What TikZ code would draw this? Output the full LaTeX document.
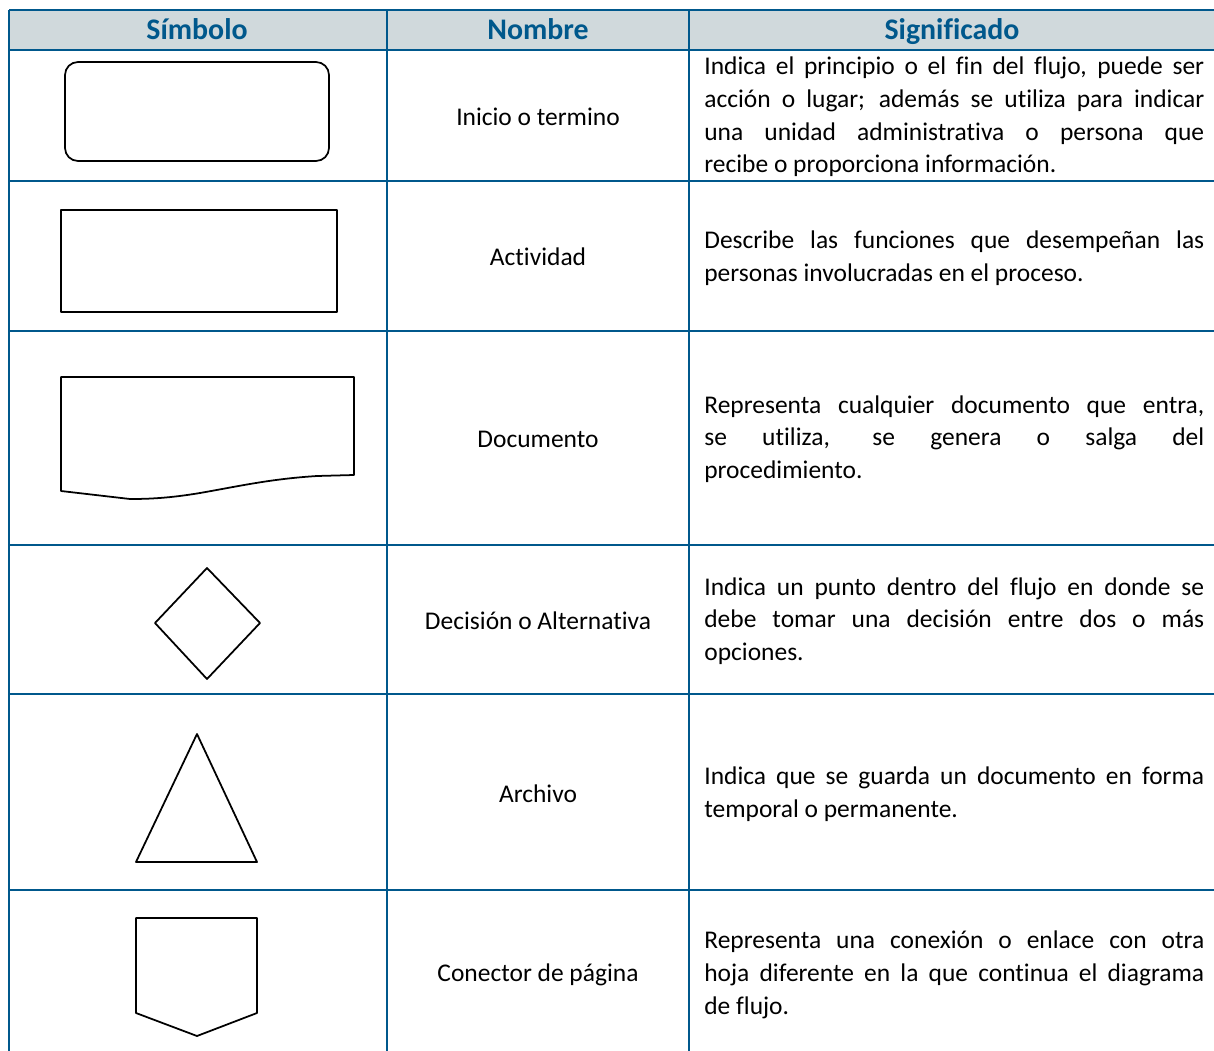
\documentclass[tikz,border=0pt]{standalone}
\usepackage{fontspec}
\setmainfont{Carlito}[RawFeature={-liga;-clig;-calt;-dlig}]
\usetikzlibrary{shapes.geometric,positioning}
\definecolor{rulecol}{RGB}{0,88,140}
\definecolor{headfill}{RGB}{208,217,220}

\begin{document}
\begin{tikzpicture}[x=0.02cm,y=-0.02cm,line join=round,
    head/.style={font=\fontsize{17}{20}\selectfont\bfseries,text=rulecol,inner sep=0pt,anchor=base},
    name cell/.style={font=\fontsize{14.5}{18.6}\selectfont,inner sep=0pt},
    mean cell/.style={font=\fontsize{14.5}{18.6}\selectfont,inner sep=0pt,anchor=west,text width=10cm,align=justify},
    symbol/.style={draw=black,line width=1pt},
    grid line/.style={draw=rulecol,line width=1.4pt}]

                \useasboundingbox (0,0) rectangle (1214,1051);

                \fill[headfill] (9,10) rectangle (1214,50);

                \foreach \y in {10,50,181,331,545,694,890}{
                    \path[grid line] (9,\y) -- (1214,\y);
                }
                \foreach \x in {9,387,689}{
                    \path[grid line] (\x,10) -- (\x,1051);
                }

                \node[head] (h1) at (197,40) {Símbolo};
                \node[head] (h2) at (538,40) {Nombre};
                \node[head] (h3) at (952,40) {Significado};

                \draw[symbol,rounded corners=0.26cm] (65,62) rectangle (329,161);
                \draw[symbol] (61,210) rectangle (337,312);
                \draw[symbol] (61,491) -- (61,377) -- (354,377) -- (354,475) -- (317,476)
                    .. controls (270,479) and (240,486) .. (200,493)
                    .. controls (170,498) and (150,499) .. (130,499)
                    -- cycle;
                \draw[symbol] (207,568) -- (260,623) -- (207,679) -- (155,623) -- cycle;
                \draw[symbol] (197,734) -- (257,862) -- (136,862) -- cycle;
                \draw[symbol] (136,918) -- (257,918) -- (257,1013) -- (197,1036) -- (136,1013) -- cycle;

                \node[name cell] (n1) at (538,117) {Inicio o termino};
                \node[name cell] (n2) at (538,257) {Actividad};
                \node[name cell] (n3) at (538,439) {Documento};
                \node[name cell] (n4) at (538,621) {Decisión o Alternativa};
                \node[name cell] (n5) at (538,794) {Archivo};
                \node[name cell] (n6) at (538,975) {Conector de página};

                \node[mean cell] (m1) at (704,117) {Indica el principio o el fin del flujo, puede ser\linebreak
                    acción o lugar; además se utiliza para indicar\linebreak
                    una unidad administrativa o persona que\linebreak
                    recibe o proporciona información.};
                \node[mean cell] (m2) at (704,258) {Describe las funciones que desempeñan las\linebreak
                    personas involucradas en el proceso.};
                \node[mean cell] (m3) at (704,439) {Representa cualquier documento que entra,\linebreak
                    se utiliza, se genera o salga del\linebreak
                    procedimiento.};
                \node[mean cell] (m4) at (704,621) {Indica un punto dentro del flujo en donde se\linebreak
                    debe tomar una decisión entre dos o más\linebreak
                    opciones.};
                \node[mean cell] (m5) at (704,794) {Indica que se guarda un documento en forma\linebreak
                    temporal o permanente.};
                \node[mean cell] (m6) at (704,975) {Representa una conexión o enlace con otra\linebreak
                    hoja diferente en la que continua el diagrama\linebreak
                    de flujo.};

            \end{tikzpicture}
\end{document}
